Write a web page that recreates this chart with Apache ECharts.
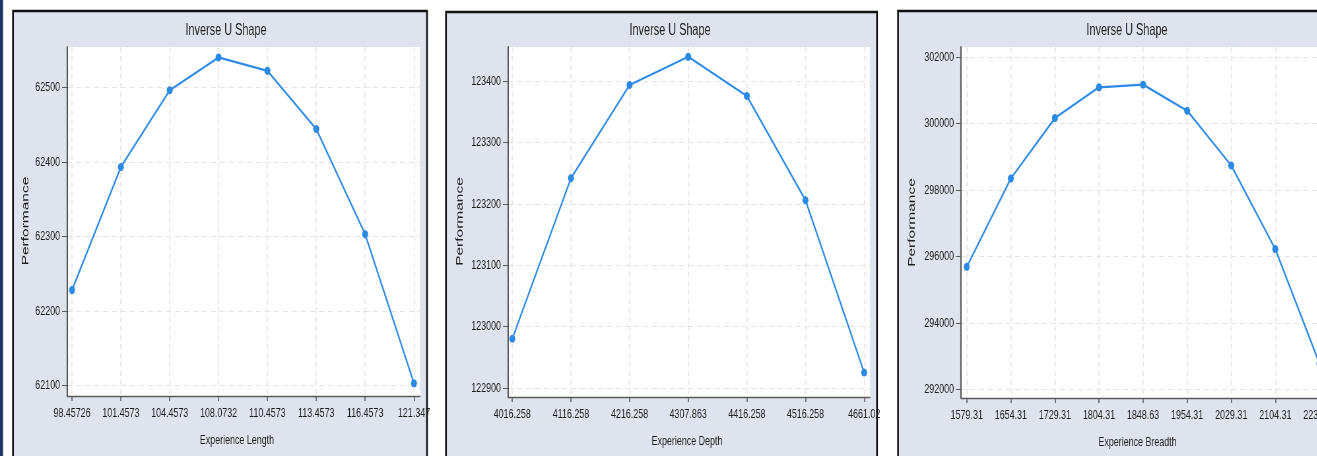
<!DOCTYPE html>
<html>
<head>
<meta charset="utf-8">
<script src="https://cdn.jsdelivr.net/npm/echarts@6/dist/echarts.min.js"></script>
<style>
html,body{margin:0;padding:0;background:#fff;width:1317px;height:456px;overflow:hidden;}
#c{width:2030px;height:456px;transform:scaleX(0.66);transform-origin:0 0;}
</style>
</head>
<body>
<div id="c"></div>
<script>
// ---- data ----
const lengthLabels = ['98.45726','101.4573','104.4573','108.0732','110.4573','113.4573','116.4573','121.347'];
const lengthPerf = [62228, 62393, 62496, 62540, 62522, 62444, 62303, 62103];
const lengthTicks = [62100, 62200, 62300, 62400, 62500];

const depthLabels = ['4016.258','4116.258','4216.258','4307.863','4416.258','4516.258','4661.02'];
const depthPerf = [122980, 123242, 123394, 123440, 123376, 123206, 122925];
const depthTicks = [122900, 123000, 123100, 123200, 123300, 123400];

const breadthLabels = ['1579.31','1654.31','1729.31','1804.31','1848.63','1954.31','2029.31','2104.31','2235.31'];
const breadthPerf = [295689, 298350, 300169, 301095, 301177, 300392, 298742, 296223, 292780];
const breadthTicks = [292000, 294000, 296000, 298000, 300000, 302000];

const titleText = 'Inverse U Shape';
const yName = 'Performance';
const xNames = ['Experience Length', 'Experience Depth', 'Experience Breadth'];

// ---- style / layout (screen px converted to the horizontally condensed canvas) ----
const S = 0.66;
const cx = x => x / S;
const FONT = "'Liberation Sans',Arimo,Arial,sans-serif";
const LINE = '#2a8ae6';
const FILL = '#dfe3ee';
const TXT = '#1e1e1e';
const AX = '#5a5a5a';
const GRIDC = '#e3e3e3';

const panels = [
  {labels: lengthLabels, perf: lengthPerf, ticks: lengthTicks, left:67, top:47, width:353, height:349, xmin:-0.102, xmax:7.123, ymin:62086, ymax:62554, title:[226,30], yname:[25.5,221], xname:[237,440]},
  {labels: depthLabels, perf: depthPerf, ticks: depthTicks, left:508, top:47, width:362, height:350, xmin:-0.073, xmax:6.10, ymin:122885, ymax:123456, title:[670,30], yname:[460,221.5], xname:[687,441.5]},
  {labels: breadthLabels, perf: breadthPerf, ticks: breadthTicks, left:961, top:47, width:365, height:351, xmin:-0.13, xmax:8.15, ymin:291738, ymax:302311, title:[1127,30], yname:[912,222.5], xname:[1137.5,442]}
];

const grids = [], xAxes = [], yAxes = [], series = [];
panels.forEach((p, i) => {
  grids.push({show:true, backgroundColor:'#fff', borderWidth:0, containLabel:false,
    left:cx(p.left), top:p.top, width:cx(p.width), height:p.height});
  const idx = p.labels.map((_, k) => k);
  xAxes.push({
    type:'value', gridIndex:i, min:p.xmin, max:p.xmax,
    axisLine:{show:true, onZero:false, lineStyle:{color:AX, width:1.4}},
    axisTick:{show:true, length:5, lineStyle:{color:AX, width:1.6}, customValues:idx},
    axisLabel:{customValues:idx, formatter:v => p.labels[Math.round(v)] ?? '', fontFamily:FONT, fontSize:13.5, color:TXT, margin:10, showMinLabel:true, showMaxLabel:true},
    splitLine:{show:true, lineStyle:{color:GRIDC, type:[5,4], width:1.6}}
  });
  yAxes.push({
    type:'value', gridIndex:i, min:p.ymin, max:p.ymax,
    axisLine:{show:true, onZero:false, lineStyle:{color:AX, width:2.2}},
    axisTick:{show:true, length:cx(5), lineStyle:{color:AX, width:1}, customValues:p.ticks},
    axisLabel:{customValues:p.ticks, formatter:v => String(v), fontFamily:FONT, fontSize:13.5, color:TXT, margin:cx(7)},
    splitLine:{show:true, lineStyle:{color:GRIDC, type:[cx(5),cx(4)], width:1}}
  });
  series.push({
    type:'line', xAxisIndex:i, yAxisIndex:i,
    data:p.perf.map((v, k) => [idx[k], v]),
    symbol:'circle', symbolSize:[cx(6), 8], showSymbol:true,
    lineStyle:{color:LINE, width:2.2}, itemStyle:{color:LINE},
    clip:false, animation:false
  });
});

const graphics = [
  {type:'rect', z:-10, shape:{x:0, y:0, width:cx(3), height:456}, style:{fill:'#1d3569'}},
  {type:'rect', z:-10, shape:{x:cx(13), y:11, width:cx(414), height:460}, style:{fill:FILL, stroke:'#111', lineWidth:2.6}},
  {type:'rect', z:-10, shape:{x:cx(446), y:12, width:cx(431), height:460}, style:{fill:FILL, stroke:'#111', lineWidth:2.6}},
  {type:'rect', z:-10, shape:{x:cx(898), y:11, width:cx(460), height:460}, style:{fill:FILL, stroke:'#111', lineWidth:2.6}}
];
panels.forEach((p, i) => {
  graphics.push({type:'text', z:5, x:cx(p.title[0]), y:p.title[1], style:{text:titleText, fill:TXT, font:"16.5px " + FONT, textAlign:'center', textVerticalAlign:'middle'}});
  graphics.push({type:'text', z:5, x:cx(p.xname[0]), y:p.xname[1], style:{text:xNames[i], fill:TXT, font:"13.5px " + FONT, textAlign:'center', textVerticalAlign:'middle'}});
  graphics.push({type:'text', z:5, x:cx(p.yname[0]), y:p.yname[1], rotation:Math.PI/2, style:{text:yName, fill:TXT, font:"15.5px " + FONT, textAlign:'center', textVerticalAlign:'middle'}});
});

const chart = echarts.init(document.getElementById('c'), null, {renderer:'canvas'});
chart.setOption({
  animation:false,
  backgroundColor:'#fff',
  grid:grids, xAxis:xAxes, yAxis:yAxes, series:series,
  graphic:{elements:graphics}
});
</script>
</body>
</html>
